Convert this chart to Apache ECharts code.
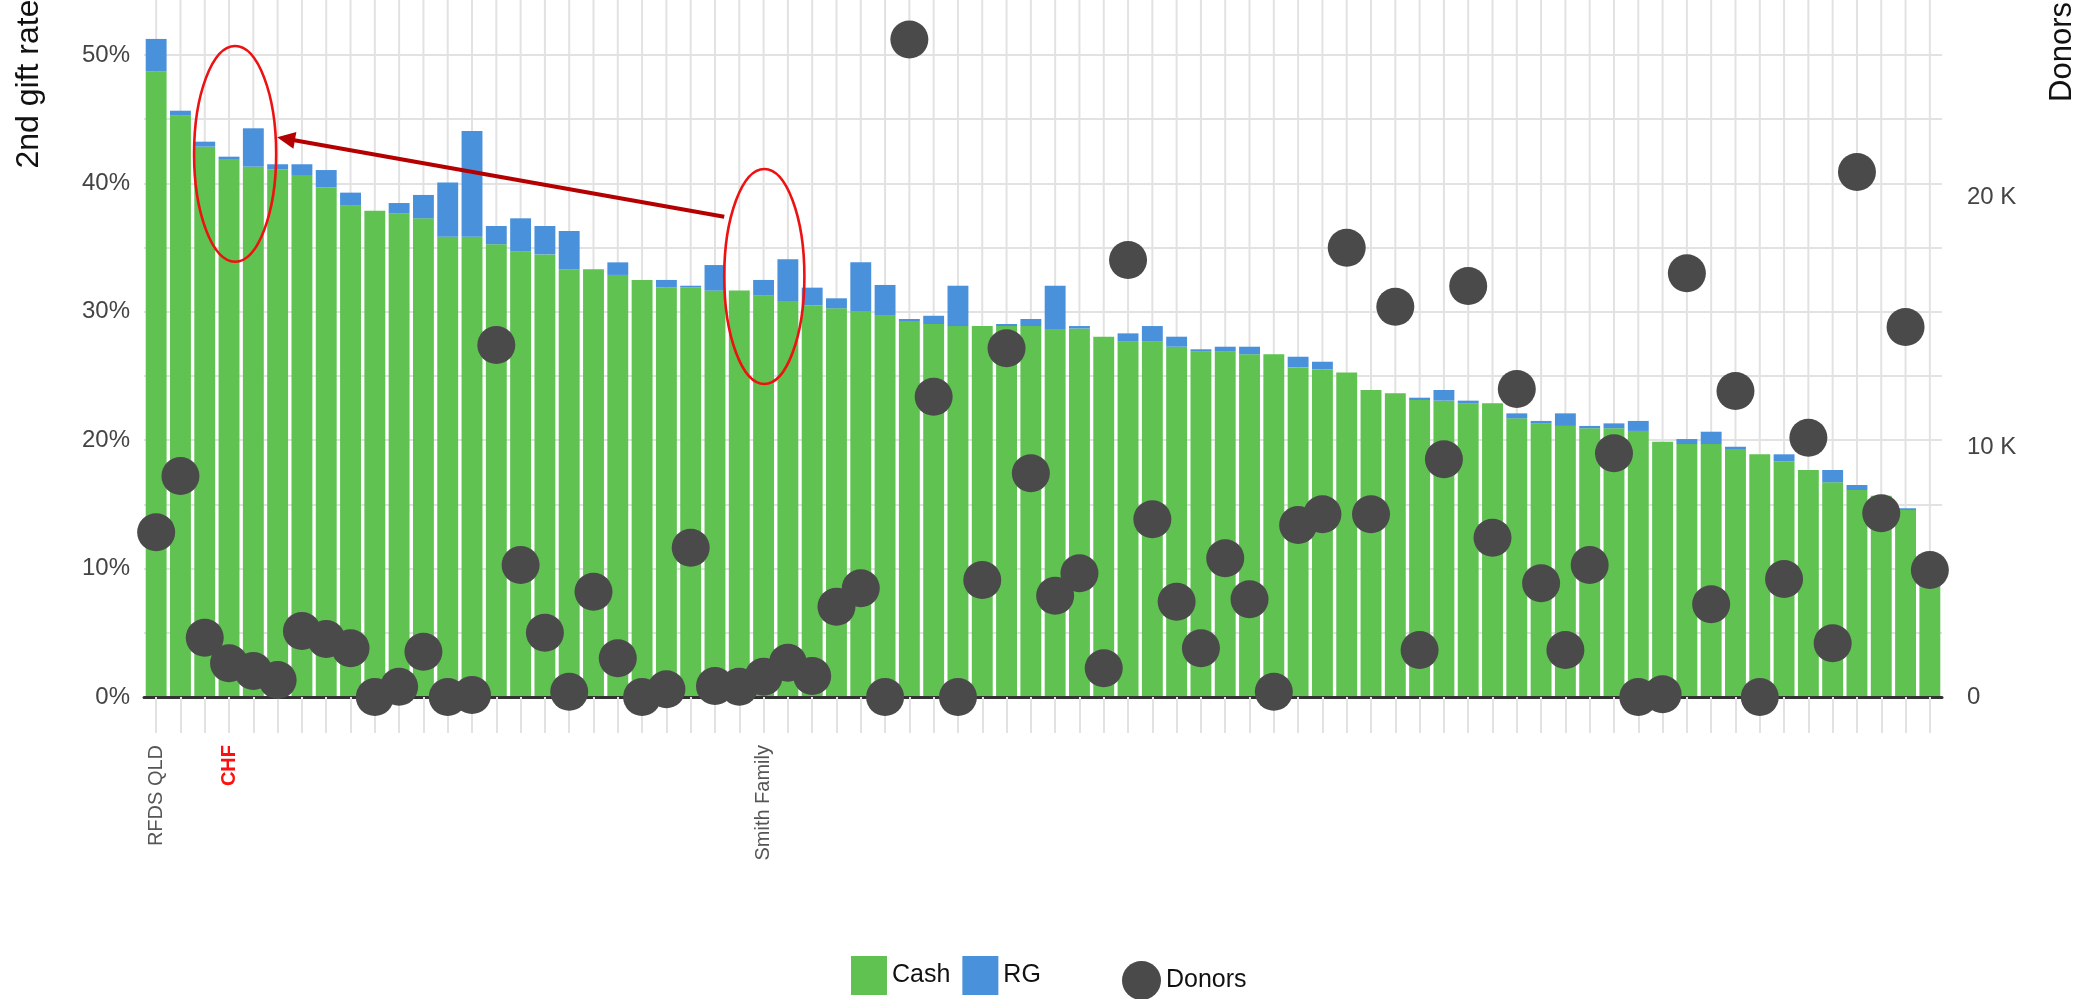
<!DOCTYPE html>
<html>
<head>
<meta charset="utf-8">
<title>2nd gift rate by charity</title>
<script src="https://cdn.jsdelivr.net/npm/echarts@6/dist/echarts.min.js"></script>
<style>
  html, body { margin: 0; padding: 0; background: #ffffff; }
  #chart { width: 2098px; height: 999px; }
</style>
</head>
<body>
<div id="chart"></div>
<script>
// Second gift rate (%) split into cash and regular giving, one bar per charity
const cash = [
  48.70, 45.27, 42.86, 41.90, 41.30, 41.10, 40.65, 39.67, 38.26, 37.87,
  37.67, 37.28, 35.85, 35.85, 35.26, 34.68, 34.47, 33.31, 33.31, 32.87,
  32.48, 31.88, 31.88, 31.65, 31.65, 31.28, 30.84, 30.48, 30.27, 30.06,
  29.69, 29.28, 29.05, 28.89, 28.89, 28.89, 28.89, 28.66, 28.70, 28.06,
  27.67, 27.67, 27.28, 26.89, 26.89, 26.69, 26.69, 25.67, 25.51, 25.28,
  23.91, 23.65, 23.13, 23.08, 22.87, 22.87, 21.70, 21.31, 21.11, 20.93,
  20.93, 20.72, 19.88, 19.70, 19.70, 19.31, 18.90, 18.33, 17.68, 16.72,
  16.12, 15.68, 14.56, 8.60
];
const rg = [
  2.55, 0.39, 0.39, 0.18, 2.99, 0.39, 0.84, 1.37, 1.02, 0.00,
  0.80, 1.82, 4.21, 8.23, 1.42, 2.60, 2.21, 2.98, 0.00, 0.98,
  0.00, 0.60, 0.15, 1.99, 0.00, 1.20, 3.25, 1.40, 0.78, 3.80,
  2.40, 0.16, 0.64, 3.14, 0.00, 0.16, 0.55, 3.37, 0.19, 0.00,
  0.65, 1.22, 0.78, 0.19, 0.39, 0.59, 0.00, 0.83, 0.60, 0.00,
  0.00, 0.00, 0.18, 0.83, 0.21, 0.00, 0.39, 0.19, 0.98, 0.18,
  0.38, 0.78, 0.00, 0.39, 0.96, 0.18, 0.00, 0.57, 0.00, 0.96,
  0.39, 0.00, 0.14, 0.30
];
// Number of donors per charity
const donors = [
  6590, 8840, 2370, 1350, 1040, 680, 2640, 2320, 1950, 0,
  410, 1810, 0, 80, 14080, 5280, 2570, 210, 4210, 1550,
  0, 310, 5970, 440, 410, 810, 1370, 840, 3610, 4350,
  0, 26300, 12010, 0, 4680, 13950, 8950, 4050, 4950, 1150,
  17480, 7110, 3810, 1950, 5550, 3910, 210, 6880, 7310, 17970,
  7310, 15610, 1880, 9510, 16440, 6370, 12320, 4550, 1880, 5280,
  9750, 0, 110, 16950, 3710, 12240, 0, 4720, 10370, 2150,
  21000, 7350, 14800, 5080
];
// Charities named on the axis (by position); the rest are unlabelled
const labelledCharities = [
  { index: 0, name: 'RFDS QLD' },
  { index: 3, name: 'CHF' },
  { index: 25, name: 'Smith Family' }
];
const highlightedCharity = 'CHF';
const categories = cash.map(function (_, i) {
  const hit = labelledCharities.find(function (c) { return c.index === i; });
  return hit ? hit.name : '';
});
// Axis tick steps
const rateTickStep = 10;      // labelled every 10 %
const rateGridStep = 5;       // grid line every 5 %
const donorTickStep = 10000;  // 0, 10 K, 20 K

const FONT = 'Liberation Sans, Arial, Helvetica, sans-serif';
const GREEN = '#5fc251';
const BLUE = '#4a91dc';
const DOT = '#4a4a4a';
const GRID = '#e2e2e2';

const chart = echarts.init(document.getElementById('chart'), null, { renderer: 'canvas' });

const option = {
  animation: false,
  backgroundColor: '#ffffff',
  textStyle: { fontFamily: FONT },
  grid: { left: 144, right: 156, top: -20, bottom: 302, outerBoundsMode: 'none', containLabel: false },
  legend: [
    {
      data: ['Cash', 'RG'],
      left: 846, top: 951,
      itemWidth: 36, itemHeight: 39, itemGap: 12,
      icon: 'rect',
      selectedMode: false,
      textStyle: { fontSize: 25, color: '#111', fontFamily: FONT }
    },
    {
      data: [{ name: 'Donors', icon: 'circle' }],
      left: 1117, top: 956,
      itemWidth: 39, itemHeight: 39,
      selectedMode: false,
      textStyle: { fontSize: 25, color: '#111', fontFamily: FONT }
    }
  ],
  xAxis: {
    type: 'category',
    data: categories,
    boundaryGap: true,
    z: 3,
    axisLine: { show: true, lineStyle: { color: '#333333', width: 3 } },
    axisTick: { show: true, alignWithLabel: true, interval: 0, length: 36, lineStyle: { color: GRID, width: 2 } },
    axisLabel: {
      interval: 0,
      rotate: 90,
      margin: 48,
      fontSize: 20,
      color: '#555555',
      fontFamily: FONT,
      formatter: function (v) { return v === highlightedCharity ? '{hl|' + v + '}' : v; },
      rich: { hl: { color: '#ff1010', fontWeight: 'bold', fontSize: 20, fontFamily: FONT } }
    },
    splitLine: { show: false }
  },
  yAxis: [
    {
      type: 'value',
      min: 0,
      max: 55.84,
      interval: rateGridStep,
      axisLine: { show: false },
      axisTick: { show: false },
      axisLabel: {
        fontSize: 24,
        color: '#444444',
        margin: 14,
        fontFamily: FONT,
        formatter: function (v) {
          const r = Math.round(v);
          return (Math.abs(v - r) < 1e-6 && r % rateTickStep === 0) ? r + '%' : '';
        }
      },
      splitLine: { show: true, lineStyle: { color: GRID, width: 2 } }
    },
    {
      type: 'value',
      position: 'right',
      min: 0,
      max: 28680,
      interval: donorTickStep,
      axisLine: { show: false },
      axisTick: { show: false },
      axisLabel: {
        fontSize: 24,
        color: '#444444',
        margin: 25,
        fontFamily: FONT,
        formatter: function (v) {
          if (v === 0) return '0';
          return v % donorTickStep === 0 ? (v / 1000) + ' K' : '';
        }
      },
      splitLine: { show: false }
    }
  ],
  series: [
    {
      // vertical guide line through the middle of every bar
      name: 'guides',
      type: 'custom',
      silent: true,
      z: 1,
      data: categories.map(function (_, i) { return [i, 0]; }),
      encode: { x: 0, y: 1 },
      renderItem: function (params, api) {
        const x = api.coord([api.value(0), 0])[0];
        const cs = params.coordSys;
        return {
          type: 'line',
          shape: { x1: x, y1: cs.y, x2: x, y2: cs.y + cs.height },
          style: { stroke: GRID, lineWidth: 2 }
        };
      }
    },
    {
      name: 'Cash',
      type: 'bar',
      stack: 'rate',
      data: cash,
      barCategoryGap: '14%',
      itemStyle: { color: GREEN },
      emphasis: { disabled: true },
      z: 2
    },
    {
      name: 'RG',
      type: 'bar',
      stack: 'rate',
      data: rg,
      barCategoryGap: '14%',
      itemStyle: { color: BLUE },
      emphasis: { disabled: true },
      z: 2
    },
    {
      name: 'Donors',
      type: 'scatter',
      yAxisIndex: 1,
      data: donors,
      symbol: 'circle',
      symbolSize: 38,
      itemStyle: { color: DOT, opacity: 1 },
      emphasis: { disabled: true },
      z: 5
    }
  ]
};

chart.setOption(option);

// Annotations: circles around two charities and an arrow between them,
// placed in data units (bar position, rate %) and converted to pixels.
function toPx(cat, rate) {
  const i0 = Math.floor(cat);
  const f = cat - i0;
  const a = chart.convertToPixel({ xAxisIndex: 0, yAxisIndex: 0 }, [i0, rate]);
  const b = chart.convertToPixel({ xAxisIndex: 0, yAxisIndex: 0 }, [i0 + 1, rate]);
  return [a[0] + (b[0] - a[0]) * f, a[1]];
}
const catStep = toPx(1, 0)[0] - toPx(0, 0)[0];
const rateStep = toPx(0, 0)[1] - toPx(0, 1)[1];

function ring(cat, rate, halfCats, halfRate) {
  const c = toPx(cat, rate);
  return {
    type: 'ellipse',
    silent: true,
    z: 20,
    shape: { cx: c[0], cy: c[1], rx: halfCats * catStep, ry: halfRate * rateStep },
    style: { fill: 'none', stroke: '#ee1111', lineWidth: 2.6 }
  };
}

const arrowFrom = toPx(23.38, 37.4);
const arrowTip = toPx(4.98, 43.6);
const dx = arrowTip[0] - arrowFrom[0];
const dy = arrowTip[1] - arrowFrom[1];
const len = Math.sqrt(dx * dx + dy * dy);
const ux = dx / len, uy = dy / len;
const nx = -uy, ny = ux;
const headLen = 18, headHalf = 8.5;
const base = [arrowTip[0] - ux * headLen, arrowTip[1] - uy * headLen];

chart.setOption({
  graphic: [
    {
      type: 'text',
      x: 29, y: 84,
      rotation: Math.PI / 2,
      silent: true,
      style: { text: '2nd gift rate', fontSize: 32, fontFamily: FONT, fill: '#111111', align: 'center', verticalAlign: 'middle' }
    },
    {
      type: 'text',
      x: 2062, y: 52,
      rotation: Math.PI / 2,
      silent: true,
      style: { text: 'Donors', fontSize: 31, fontFamily: FONT, fill: '#111111', align: 'center', verticalAlign: 'middle' }
    },
    ring(3.25, 42.3, 1.69, 8.4),
    ring(25.03, 32.75, 1.65, 8.37),
    {
      type: 'line',
      silent: true,
      z: 20,
      shape: { x1: arrowFrom[0], y1: arrowFrom[1], x2: base[0] + ux * 2, y2: base[1] + uy * 2 },
      style: { stroke: '#b40000', lineWidth: 4 }
    },
    {
      type: 'polygon',
      silent: true,
      z: 20,
      shape: {
        points: [
          [arrowTip[0], arrowTip[1]],
          [base[0] + nx * headHalf, base[1] + ny * headHalf],
          [base[0] - nx * headHalf, base[1] - ny * headHalf]
        ]
      },
      style: { fill: '#b40000' }
    }
  ]
});
</script>
</body>
</html>
